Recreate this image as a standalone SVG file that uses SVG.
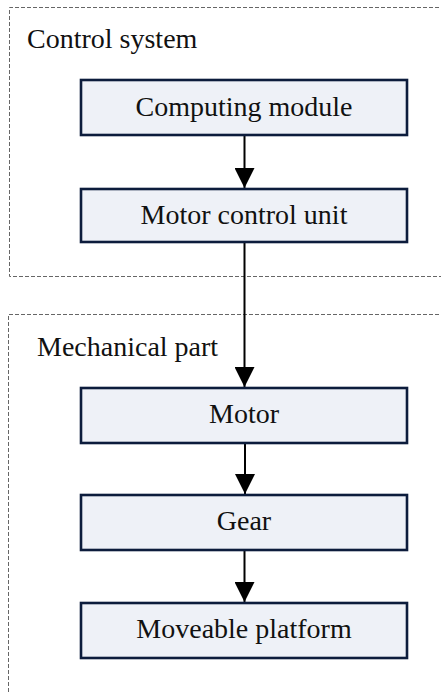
<svg xmlns="http://www.w3.org/2000/svg" width="441" height="693" viewBox="0 0 441 693">
  <style>
    .frame { fill: none; stroke: #666; stroke-width: 1; stroke-dasharray: 4 2; }
    .box { fill: #eef1f7; stroke: #0c1c3c; stroke-width: 2.6; }
    .label { font-family: "Times New Roman", Times, Tinos, "Liberation Serif", "Noto Serif", FreeSerif, serif; font-size: 28px; fill: #111; }
    .mid { text-anchor: middle; }
    .wire { stroke: #000; stroke-width: 2; fill: none; }
  </style>
  <defs>
    <marker id="head" markerUnits="userSpaceOnUse" markerWidth="20" markerHeight="20" viewBox="0 0 20 20" refX="20" refY="10" orient="auto">
      <path d="M0,0 L20,10 L0,20 Z" fill="#000"/>
    </marker>
  </defs>
  <rect width="441" height="693" fill="#fff"/>

  <!-- subsystem frames -->
  <g id="control-system">
    <path class="frame" d="M445,7.5 H9.5 V276.5 H445"/>
    <text class="label" x="27" y="48">Control system</text>
  </g>
  <g id="mechanical-part">
    <path class="frame" d="M445,314.5 H8.5 V700"/>
    <text class="label" x="37" y="356">Mechanical part</text>
  </g>

  <!-- connectors -->
  <g id="connectors">
    <line class="wire" x1="244.5" y1="135" x2="244.5" y2="188" marker-end="url(#head)"/>
    <line class="wire" x1="244.5" y1="242" x2="244.5" y2="387" marker-end="url(#head)"/>
    <line class="wire" x1="245" y1="443" x2="245" y2="494" marker-end="url(#head)"/>
    <line class="wire" x1="244.5" y1="550" x2="244.5" y2="602" marker-end="url(#head)"/>
  </g>

  <!-- blocks -->
  <g id="computing-module">
    <rect class="box" x="81" y="80" width="326" height="55"/>
    <text class="label mid" x="244" y="116">Computing module</text>
  </g>
  <g id="motor-control-unit">
    <rect class="box" x="81" y="189" width="326" height="53"/>
    <text class="label mid" x="244" y="224">Motor control unit</text>
  </g>
  <g id="motor">
    <rect class="box" x="81" y="388" width="326" height="55"/>
    <text class="label mid" x="244" y="423">Motor</text>
  </g>
  <g id="gear">
    <rect class="box" x="81" y="495" width="326" height="55"/>
    <text class="label mid" x="244" y="530">Gear</text>
  </g>
  <g id="moveable-platform">
    <rect class="box" x="81" y="603" width="326" height="55"/>
    <text class="label mid" x="244" y="638">Moveable platform</text>
  </g>
</svg>
